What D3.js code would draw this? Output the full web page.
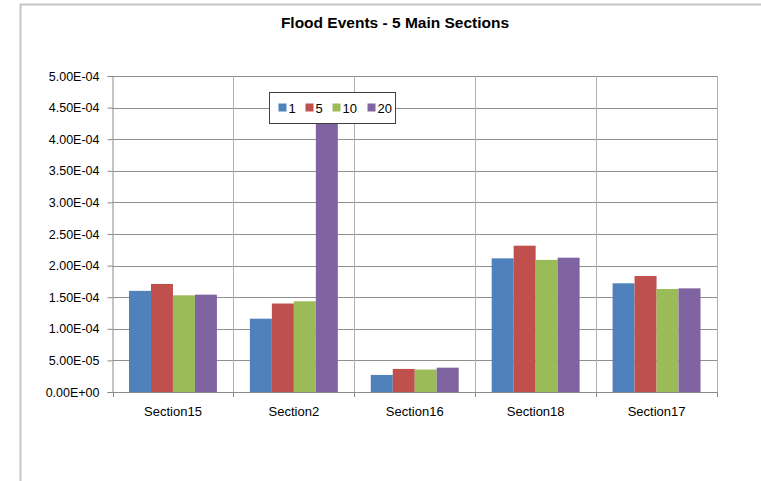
<!DOCTYPE html>
<html>
<head>
<meta charset="utf-8">
<script src="https://cdn.jsdelivr.net/npm/d3@7"></script>
<style>
  html, body { margin: 0; padding: 0; background: #fff; }
  svg { display: block; }
  text { font-family: "Liberation Sans", Arial, sans-serif; fill: #000; }
</style>
</head>
<body>
<svg id="chart" width="761" height="481"></svg>
<script>
// Flood event values per section, one array per return period
const sections = ["Section15", "Section2", "Section16", "Section18", "Section17"];
const seriesNames = ["1", "5", "10", "20"];
const series1  = [1.60e-4, 1.16e-4, 2.70e-5, 2.115e-4, 1.72e-4];
const series5  = [1.71e-4, 1.40e-4, 3.65e-5, 2.315e-4, 1.835e-4];
const series10 = [1.53e-4, 1.435e-4, 3.55e-5, 2.09e-4, 1.63e-4];
const series20 = [1.54e-4, 4.45e-4, 3.85e-5, 2.125e-4, 1.64e-4];
const yTicks = [0, 5e-5, 1e-4, 1.5e-4, 2e-4, 2.5e-4, 3e-4, 3.5e-4, 4e-4, 4.5e-4, 5e-4];
const colors = ["#4F81BD", "#C0504D", "#9BBB59", "#8064A2"];
const title = "Flood Events - 5 Main Sections";

const allSeries = [series1, series5, series10, series20];

const svg = d3.select("#chart");

// outer chart frame
svg.append("rect")
  .attr("x", 20.5).attr("y", 4.5)
  .attr("width", 800).attr("height", 500)
  .attr("fill", "#fff")
  .attr("stroke", "#c6c6c6")
  .attr("stroke-width", 2);

const plot = { left: 112.5, right: 717, top: 76, bottom: 392 };

const x = d3.scaleBand()
  .domain(sections)
  .range([plot.left, plot.right])
  .padding(0);

const xInner = d3.scaleBand()
  .domain(seriesNames)
  .range([0, x.bandwidth()])
  .paddingInner(0)
  .paddingOuter(0.75);

const y = d3.scaleLinear()
  .domain([0, 5e-4])
  .range([plot.bottom, plot.top]);

function sci(v) {
  const [m, e] = v.toExponential(2).split("e");
  const sign = e[0] === "-" ? "-" : "+";
  const digits = e.replace(/[+-]/, "").padStart(2, "0");
  return m + "E" + sign + digits;
}

// horizontal gridlines
svg.append("g")
  .selectAll("line")
  .data(yTicks.filter(d => d > 0))
  .join("line")
  .attr("x1", plot.left).attr("x2", plot.right)
  .attr("y1", d => Math.round(y(d)) + 0.5)
  .attr("y2", d => Math.round(y(d)) + 0.5)
  .attr("stroke", "#8f8f8f")
  .attr("stroke-width", 1);

// vertical gridlines at category boundaries
const bounds = sections.map(s => x(s) + x.bandwidth());
svg.append("g")
  .selectAll("line")
  .data(bounds)
  .join("line")
  .attr("x1", d => Math.round(d) + 0.5).attr("x2", d => Math.round(d) + 0.5)
  .attr("y1", plot.top).attr("y2", plot.bottom)
  .attr("stroke", "#b0b0b0")
  .attr("stroke-width", 1);

// y axis
const yAxis = svg.append("g")
  .attr("transform", `translate(${plot.left},0)`)
  .call(d3.axisLeft(y).tickValues(yTicks).tickFormat(sci).tickSize(5).tickPadding(8));
yAxis.select(".domain").attr("stroke", "#8a8a8a");
yAxis.selectAll(".tick line").attr("stroke", "#8a8a8a");
yAxis.selectAll("text")
  .style("font-family", "'Liberation Sans', Arial, sans-serif")
  .style("font-size", "12.5px")
  .attr("fill", "#000");

// x axis
const xAxis = svg.append("g")
  .attr("transform", `translate(0,${plot.bottom})`)
  .call(d3.axisBottom(x).tickSize(0).tickPadding(15));
xAxis.select(".domain").attr("stroke", "#8a8a8a");
xAxis.selectAll("text")
  .style("font-family", "'Liberation Sans', Arial, sans-serif")
  .style("font-size", "13px")
  .attr("fill", "#000");
// boundary tick marks below the axis
svg.append("g")
  .selectAll("line")
  .data([plot.left, ...bounds])
  .join("line")
  .attr("x1", d => Math.round(d) + 0.5).attr("x2", d => Math.round(d) + 0.5)
  .attr("y1", plot.bottom).attr("y2", plot.bottom + 5)
  .attr("stroke", "#8a8a8a");

// bars
const groups = svg.append("g")
  .selectAll("g")
  .data(sections)
  .join("g")
  .attr("transform", d => `translate(${x(d)},0)`);

groups.selectAll("rect")
  .data((s, i) => seriesNames.map((n, k) => ({ name: n, value: allSeries[k][i], k })))
  .join("rect")
  .attr("x", d => xInner(d.name))
  .attr("width", xInner.bandwidth())
  .attr("y", d => y(d.value))
  .attr("height", d => y(0) - y(d.value))
  .attr("fill", d => colors[d.k]);

// redraw x axis line over bar bottoms
svg.append("line")
  .attr("x1", plot.left).attr("x2", plot.right)
  .attr("y1", plot.bottom + 0.5).attr("y2", plot.bottom + 0.5)
  .attr("stroke", "#8a8a8a");

// legend
const legend = svg.append("g").attr("transform", "translate(269.5,92.5)");
legend.append("rect")
  .attr("width", 126).attr("height", 31)
  .attr("fill", "#fff")
  .attr("stroke", "#404040")
  .attr("stroke-width", 1);
const legendX = [9, 36, 63, 98];
const items = legend.selectAll("g.item")
  .data(seriesNames)
  .join("g")
  .attr("class", "item")
  .attr("transform", (d, i) => `translate(${legendX[i]},0)`);
items.append("rect")
  .attr("x", 0).attr("y", 11).attr("width", 8).attr("height", 8)
  .attr("fill", (d, i) => colors[i]);
items.append("text")
  .attr("x", 10).attr("y", 20)
  .style("font-size", "13px")
  .text(d => d);

// title
svg.append("text")
  .attr("x", 395).attr("y", 28)
  .attr("text-anchor", "middle")
  .style("font-size", "15.5px")
  .style("font-weight", "bold")
  .text(title);
</script>
</body>
</html>
